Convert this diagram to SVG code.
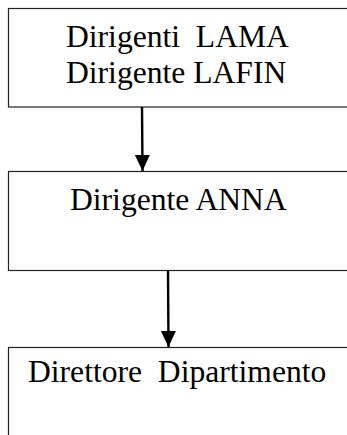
<svg xmlns="http://www.w3.org/2000/svg" width="347" height="435" viewBox="0 0 347 435">
<style>
.box{fill:#fff;stroke:#222;stroke-width:1.2}
.t{font-family:'Liberation Serif','Times New Roman',serif;font-size:31.6px;fill:#000;white-space:pre}
.c{stroke:#000;stroke-width:2.4;fill:none}
</style>
<defs>
<marker id="ah" markerUnits="userSpaceOnUse" markerWidth="16" markerHeight="16" refX="16" refY="7.5" orient="auto">
<path d="M0,0 L16,7.5 L0,15 Z" fill="#000"/>
</marker>
</defs>
<rect width="347" height="435" fill="#fff"/>
<g id="n1">
<rect class="box" x="8.5" y="8.5" width="350" height="98.5"/>
<text class="t" x="66" y="47" xml:space="preserve">Dirigenti  LAMA</text>
<text class="t" x="66" y="83">Dirigente LAFIN</text>
</g>
<g id="n2">
<rect class="box" x="8.5" y="171.5" width="350" height="99"/>
<text class="t" x="70" y="210">Dirigente ANNA</text>
</g>
<g id="n3">
<rect class="box" x="8.5" y="347.5" width="350" height="100"/>
<text class="t" x="28" y="382" xml:space="preserve">Direttore  Dipartimento</text>
</g>
<g id="connectors">
<line class="c" x1="142" y1="107" x2="142.5" y2="171" marker-end="url(#ah)"/>
<line class="c" x1="168" y1="271" x2="168.5" y2="347" marker-end="url(#ah)"/>
</g>
</svg>
